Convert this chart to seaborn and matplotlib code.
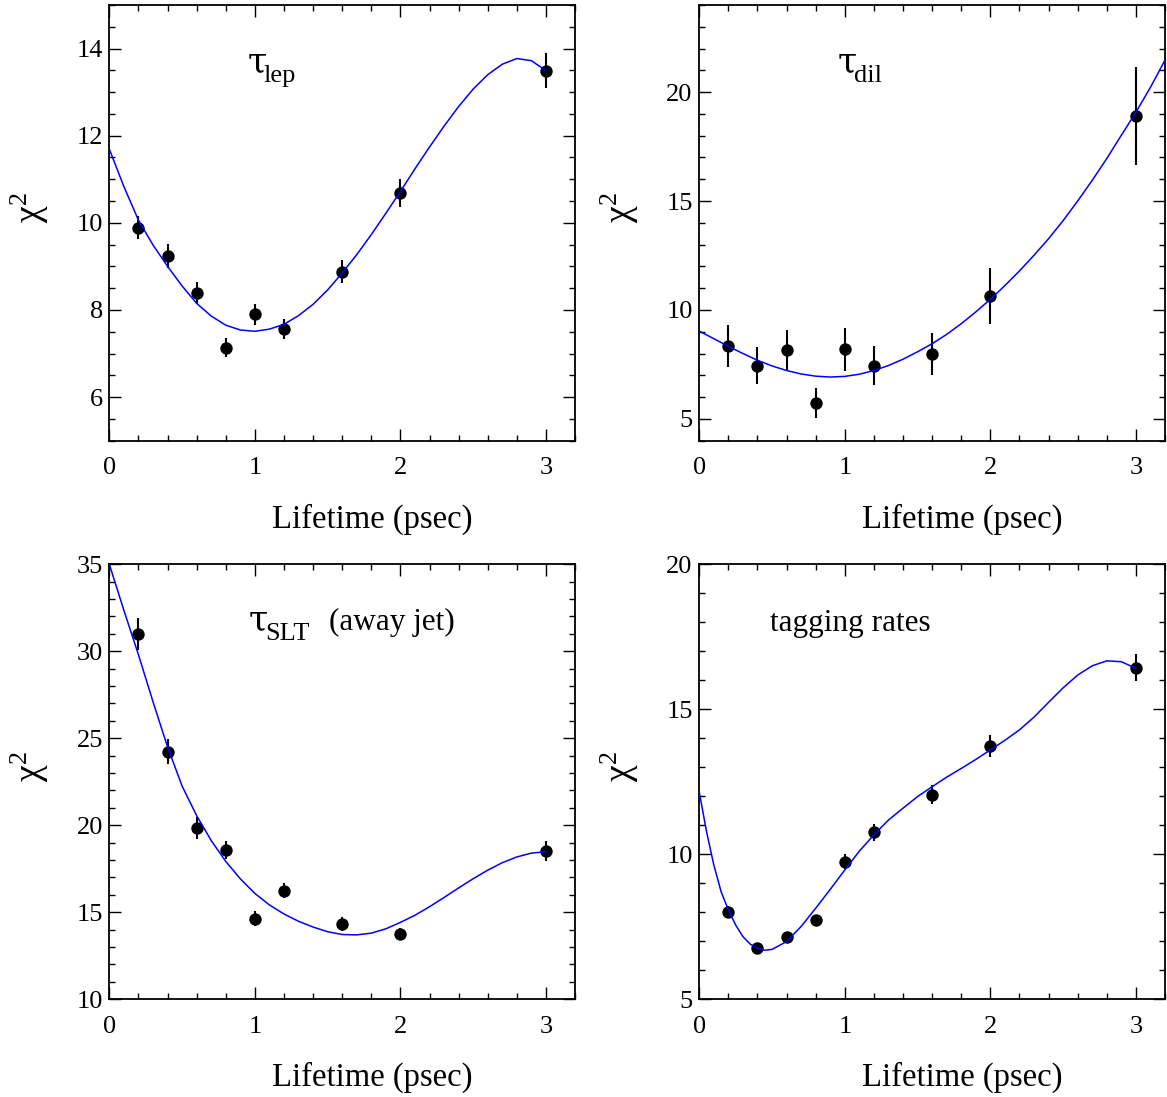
import numpy as np
import pandas as pd
import matplotlib
matplotlib.use("Agg")
import matplotlib.pyplot as plt
from matplotlib.ticker import MultipleLocator
import seaborn as sns

# ---- data -------------------------------------------------------------
lifetime = [0.2, 0.4, 0.6, 0.8, 1.0, 1.2, 1.6, 2.0, 3.0]

lep_chi2 = [9.89, 9.24, 8.38, 7.13, 7.90, 7.57, 8.88, 10.69, 13.49]
lep_err = [0.27, 0.27, 0.25, 0.22, 0.24, 0.23, 0.27, 0.32, 0.40]

dil_chi2 = [8.34, 7.45, 8.14, 5.74, 8.19, 7.45, 7.98, 10.64, 18.91]
dil_err = [0.98, 0.87, 0.95, 0.69, 0.97, 0.88, 0.95, 1.27, 2.25]

slt_chi2 = [30.98, 24.23, 19.83, 18.58, 14.62, 16.25, 14.33, 13.75, 18.52]
slt_err = [0.91, 0.72, 0.62, 0.53, 0.43, 0.45, 0.41, 0.37, 0.55]

tag_chi2 = [8.02, 6.78, 7.13, 7.74, 9.75, 10.76, 12.05, 13.75, 16.44]
tag_err = [0.18, 0.15, 0.16, 0.18, 0.27, 0.30, 0.33, 0.38, 0.48]

# fitted chi2 curves, sampled along the lifetime axis
lep_fit_x = np.linspace(0.0, 3.0, 31)
lep_fit = [11.69, 10.83, 10.06, 9.49, 9.00, 8.55, 8.15, 7.86, 7.65, 7.54,
           7.51, 7.56, 7.67, 7.87, 8.13, 8.46, 8.85, 9.27, 9.73, 10.22,
           10.72, 11.24, 11.74, 12.22, 12.67, 13.07, 13.40, 13.64, 13.77,
           13.72, 13.49]

dil_fit_x = np.linspace(0.0, 3.2, 33)
dil_fit = [9.03, 8.68, 8.33, 8.00, 7.69, 7.43, 7.22, 7.06, 6.96, 6.92,
           6.95, 7.05, 7.22, 7.45, 7.74, 8.08, 8.45, 8.88, 9.37, 9.91,
           10.49, 11.12, 11.79, 12.51, 13.27, 14.10, 15.00, 15.95, 16.95,
           18.02, 19.07, 20.22, 21.47]

slt_fit_x = np.linspace(0.0, 3.0, 31)
slt_fit = [35.0, 32.35, 29.80, 27.10, 24.50, 22.25, 20.55, 19.12, 17.92,
           16.92, 16.08, 15.42, 14.90, 14.48, 14.15, 13.88, 13.72, 13.70,
           13.80, 14.05, 14.42, 14.83, 15.32, 15.85, 16.40, 16.93, 17.42,
           17.85, 18.18, 18.40, 18.48]

tag_fit_x = np.concatenate([np.linspace(0.0, 0.5, 11), np.linspace(0.6, 3.0, 25)])
tag_fit = [12.14, 10.78, 9.63, 8.71, 8.08, 7.56, 7.16, 6.90, 6.76, 6.69,
           6.72, 6.99, 7.51, 8.14, 8.79, 9.46, 10.11, 10.67, 11.18, 11.59,
           11.99, 12.33, 12.66, 12.96, 13.27, 13.60, 13.93, 14.29, 14.73,
           15.24, 15.74, 16.18, 16.50, 16.67, 16.64, 16.41]

x_ticks = [0, 1, 2, 3]
x_label = "Lifetime (psec)"
y_label = r"$\mathrm{χ}^{2}$"

# ---- style ------------------------------------------------------------
sns.set_theme(style="ticks")
plt.rcParams["font.family"] = ["Liberation Serif", "DejaVu Serif"]
plt.rcParams["mathtext.fontset"] = "custom"
plt.rcParams["mathtext.rm"] = "Liberation Serif"
plt.rcParams["mathtext.it"] = "Liberation Serif:italic"
plt.rcParams["mathtext.bf"] = "Liberation Serif:bold"
plt.rcParams["axes.edgecolor"] = "black"
plt.rcParams["text.color"] = "black"
plt.rcParams["axes.labelcolor"] = "black"
plt.rcParams["xtick.color"] = "black"
plt.rcParams["ytick.color"] = "black"
plt.rcParams["xtick.labelcolor"] = "black"
plt.rcParams["ytick.labelcolor"] = "black"

fig = plt.figure(figsize=(11.67, 10.97), dpi=100)

# each panel: axes rect, data, ranges, and its caption
# caption = (x, y, greek symbol, subscript, trailing text)
panels = [
    dict(rect=[0.0937, 0.5983, 0.3991, 0.3972], pts=lep_chi2, err=lep_err,
         fx=lep_fit_x, fy=lep_fit, ylim=(5, 15), major=2, minor=0.5,
         caption=(0.95, 13.46, "τ", "lep", None)),
    dict(rect=[0.5992, 0.5983, 0.3991, 0.3972], pts=dil_chi2, err=dil_err,
         fx=dil_fit_x, fy=dil_fit, ylim=(4, 24), major=5, minor=1,
         caption=(0.95, 20.93, "τ", "dil", None)),
    dict(rect=[0.0937, 0.0891, 0.3991, 0.3965], pts=slt_chi2, err=slt_err,
         fx=slt_fit_x, fy=slt_fit, ylim=(10, 35), major=5, minor=1,
         caption=(0.96, 31.22, "τ", "SLT", (1.51, "(away jet)"))),
    dict(rect=[0.5992, 0.0891, 0.3991, 0.3965], pts=tag_chi2, err=tag_err,
         fx=tag_fit_x, fy=tag_fit, ylim=(5, 20), major=5, minor=1,
         caption=(0.485, 17.69, None, None, (0.485, "tagging rates"))),
]

for p in panels:
    ax = fig.add_axes(p["rect"])
    pts = pd.DataFrame({"lifetime": lifetime, "chi2": p["pts"]})
    fit = pd.DataFrame({"lifetime": p["fx"], "chi2": p["fy"]})

    ax.errorbar(pts["lifetime"], pts["chi2"], yerr=p["err"], fmt="none",
                ecolor="black", elinewidth=1.5, capsize=0, zorder=3)
    sns.scatterplot(data=pts, x="lifetime", y="chi2", ax=ax, color="black",
                    s=80, linewidth=0, zorder=4)
    sns.lineplot(data=fit, x="lifetime", y="chi2", ax=ax, color="#0000ff",
                 linewidth=1.1, sort=False, estimator=None, zorder=5)

    ax.set_xlim(0, 3.2)
    ax.set_ylim(*p["ylim"])
    ax.set_xlabel("")
    ax.set_ylabel("")
    ax.xaxis.set_major_locator(MultipleLocator(1))
    ax.xaxis.set_minor_locator(MultipleLocator(0.2))
    ax.yaxis.set_major_locator(MultipleLocator(p["major"]))
    ax.yaxis.set_minor_locator(MultipleLocator(p["minor"]))
    ax.set_xticks(x_ticks)
    ax.set_xticklabels([str(t) for t in x_ticks])

    ax.tick_params(which="both", direction="in", top=True, right=True,
                   width=1.0, labelsize=19)
    ax.tick_params(which="major", length=8.6)
    ax.tick_params(which="minor", length=4.3)
    ax.tick_params(axis="x", which="major", pad=12)
    ax.tick_params(axis="y", which="major", pad=4.7)
    for s in ax.spines.values():
        s.set_linewidth(1.3)
        s.set_color("black")

    ax.text(0.565, -0.200, x_label, transform=ax.transAxes, ha="center",
            va="baseline", fontsize=23.5)
    ax.text(-0.17, 0.535, y_label, transform=ax.transAxes, rotation=90,
            ha="center", va="center", fontsize=27)

    tx, ty, greek, sub, extra = p["caption"]
    if greek:
        ax.text(tx, ty, greek, ha="left", va="baseline", fontsize=25,
                family=["DejaVu Serif"])
        ax.annotate(sub, xy=(tx, ty), xytext=(11.5, -7.2),
                    textcoords="offset points", ha="left", va="baseline",
                    fontsize=19)
    if extra:
        ax.text(extra[0], ty, extra[1], ha="left", va="baseline",
                fontsize=22.5)

fig.savefig("out.png", dpi=100)
